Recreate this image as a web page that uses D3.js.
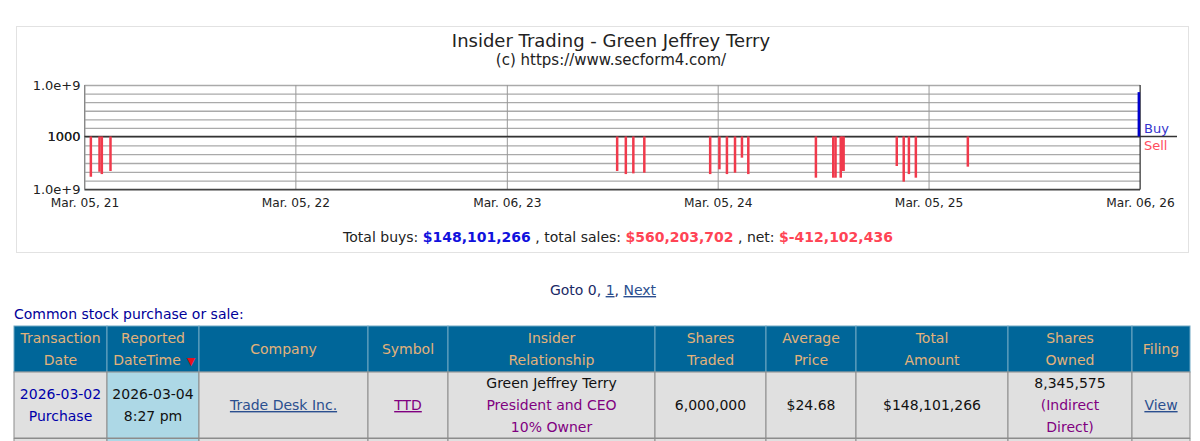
<!DOCTYPE html>
<html>
<head>
<meta charset="utf-8">
<script src="https://cdn.jsdelivr.net/npm/d3@7"></script>
<style>
  html, body { margin: 0; padding: 0; background: #fff; overflow: hidden; }
  text { font-family: "DejaVu Sans", sans-serif; }
  svg { display: block; }
</style>
</head>
<body>
<script>
// Sales (date and dollar amount)
const sellDates = ["2021-03-16", "2021-03-31", "2021-04-04", "2021-04-19",
    "2023-09-13", "2023-09-28", "2023-10-11", "2023-10-30",
    "2024-02-21", "2024-03-08", "2024-03-21", "2024-04-04", "2024-04-16", "2024-04-27",
    "2024-08-22", "2024-09-21", "2024-09-25", "2024-10-04", "2024-10-06", "2024-10-09",
    "2025-01-09", "2025-01-21", "2025-01-30", "2025-02-11", "2025-05-12"];
const sellAmounts = [36e6, 9.8e6, 18e6, 8e6,
    8e6, 18e6, 15e6, 12.6e6,
    18e6, 5.2e6, 18e6, 12.6e6, 2.5e5, 18e6,
    46e6, 46e6, 46e6, 46e6, 8e6, 8e6,
    2.2e6, 130e6, 18e6, 46e6, 2.6e6];

// Purchases
const buyDates = ["2026-03-04"];
const buyAmounts = [148101266];

const xTickDates = ["2021-03-05", "2022-03-05", "2023-03-06", "2024-03-05", "2025-03-05", "2026-03-06"];
const xTickLabels = ["Mar. 05, 21", "Mar. 05, 22", "Mar. 06, 23", "Mar. 05, 24", "Mar. 05, 25", "Mar. 06, 26"];
const yTickValues = [1e3, 1e4, 1e5, 1e6, 1e7, 1e8, 1e9];

// Table contents
const headerLines = [["Transaction", "Date"], ["Reported", "DateTime"], ["Company"], ["Symbol"],
    ["Insider", "Relationship"], ["Shares", "Traded"], ["Average", "Price"], ["Total", "Amount"],
    ["Shares", "Owned"], ["Filing"]];
const columnEdges = [14, 107, 199, 368, 448, 655, 766, 856, 1008, 1132, 1190];

const width = 1200, height = 441;
const plot = { left: 84.5, right: 1140, top: 85, zero: 136.5, bottom: 189.5 };

const parseDate = d3.utcParse("%Y-%m-%d");

const svg = d3.select("body").append("svg")
    .attr("width", width)
    .attr("height", height);

// Chart frame
svg.append("rect")
    .attr("x", 16.5).attr("y", 26.5)
    .attr("width", 1172).attr("height", 226)
    .attr("fill", "#fff")
    .attr("stroke", "#e2e2e2")
    .attr("stroke-width", 1);

svg.append("text")
    .attr("x", 611).attr("y", 47)
    .attr("text-anchor", "middle")
    .style("font-size", "18px")
    .attr("fill", "#222")
    .text("Insider Trading - Green Jeffrey Terry");

svg.append("text")
    .attr("x", 611).attr("y", 65)
    .attr("text-anchor", "middle")
    .style("font-size", "15px")
    .attr("fill", "#222")
    .text("(c) https://www.secform4.com/");

// Scales: time across, log decades above and below the 1000 line
const xscale = d3.scaleUtc()
    .domain([parseDate(xTickDates[0]), parseDate(xTickDates[5])])
    .range([plot.left, plot.right]);

const buyScale = d3.scaleLog()
    .domain([1e3, 1e9])
    .range([plot.zero, plot.top]);

const sellScale = d3.scaleLog()
    .domain([1e3, 1e9])
    .range([plot.zero, plot.bottom]);

// Horizontal grid, both halves
const gridAxis = function(scale) {
    return d3.axisLeft(scale)
        .tickValues(yTickValues)
        .tickSize(plot.left - plot.right)
        .tickFormat(d => d === 1e9 ? "1.0e+9" : (d === 1e3 ? "1000" : ""));
};

[buyScale, sellScale].forEach(scale => {
    const g = svg.append("g")
        .attr("transform", `translate(${plot.left},0)`)
        .call(gridAxis(scale));
    g.select(".domain").remove();
    g.selectAll("line").attr("stroke", "#aaa").attr("stroke-width", 1.4);
    g.selectAll("text")
        .attr("x", -4)
        .attr("fill", "#222")
        .style("font-family", '"DejaVu Sans", sans-serif')
        .style("font-size", "13px");
});

// Time axis with vertical grid
const xaxis = svg.append("g")
    .attr("transform", `translate(0,${plot.bottom})`)
    .call(d3.axisBottom(xscale)
        .tickValues(xTickDates.map(parseDate))
        .tickSize(plot.bottom - plot.top)
        .tickFormat((d, i) => xTickLabels[i]));
xaxis.select(".domain").remove();
xaxis.selectAll("line")
    .attr("y2", plot.top - plot.bottom)
    .attr("stroke", "#999")
    .attr("stroke-width", 1);
xaxis.selectAll("text")
    .attr("y", 9)
    .attr("dy", "0.71em")
    .attr("fill", "#222")
    .style("font-family", '"DejaVu Sans", sans-serif')
    .style("font-size", "12.2px");

// Dark edges of the plot
svg.append("line")
    .attr("x1", plot.left).attr("x2", plot.right)
    .attr("y1", plot.bottom).attr("y2", plot.bottom)
    .attr("stroke", "#444").attr("stroke-width", 1.4);
svg.append("line")
    .attr("x1", plot.left).attr("x2", plot.left)
    .attr("y1", plot.top).attr("y2", plot.bottom)
    .attr("stroke", "#888").attr("stroke-width", 1);
svg.append("line")
    .attr("x1", plot.right).attr("x2", plot.right)
    .attr("y1", plot.top).attr("y2", plot.bottom)
    .attr("stroke", "#333").attr("stroke-width", 1);
svg.append("line")
    .attr("x1", plot.left).attr("x2", 1177)
    .attr("y1", plot.zero).attr("y2", plot.zero)
    .attr("stroke", "#333").attr("stroke-width", 1.4);

// Bars
svg.append("g").selectAll("line")
    .data(sellDates)
    .enter().append("line")
    .attr("x1", d => xscale(parseDate(d)))
    .attr("x2", d => xscale(parseDate(d)))
    .attr("y1", plot.zero)
    .attr("y2", (d, i) => sellScale(sellAmounts[i]))
    .attr("stroke", "#f03a4c")
    .attr("stroke-width", 2.5);

svg.append("g").selectAll("line")
    .data(buyDates)
    .enter().append("line")
    .attr("x1", d => xscale(parseDate(d)))
    .attr("x2", d => xscale(parseDate(d)))
    .attr("y1", plot.zero)
    .attr("y2", (d, i) => buyScale(buyAmounts[i]))
    .attr("stroke", "#0000cc")
    .attr("stroke-width", 2.5);

svg.append("text")
    .attr("x", 1144).attr("y", 133)
    .style("font-size", "13px")
    .attr("fill", "#3333cc")
    .text("Buy");
svg.append("text")
    .attr("x", 1144).attr("y", 150)
    .style("font-size", "13px")
    .attr("fill", "#ff4d5e")
    .text("Sell");

// Totals line
const totals = svg.append("text")
    .attr("x", 618).attr("y", 242)
    .attr("text-anchor", "middle")
    .style("font-size", "14px")
    .attr("fill", "#222");
totals.append("tspan").text("Total buys: ");
totals.append("tspan").attr("font-weight", "bold").attr("fill", "#1111dd").text("$148,101,266");
totals.append("tspan").text(" , total sales: ");
totals.append("tspan").attr("font-weight", "bold").attr("fill", "#ff4455").text("$560,203,702");
totals.append("tspan").text(" , net: ");
totals.append("tspan").attr("font-weight", "bold").attr("fill", "#ff4455").text("$-412,102,436");

// Pager
const pager = svg.append("text")
    .attr("x", 603).attr("y", 295)
    .attr("text-anchor", "middle")
    .style("font-size", "14px")
    .attr("fill", "#1a2a66");
pager.append("tspan").text("Goto 0, ");
pager.append("tspan").attr("fill", "#2b4f8f").attr("text-decoration", "underline").text("1");
pager.append("tspan").text(", ");
pager.append("tspan").attr("fill", "#2b4f8f").attr("text-decoration", "underline").text("Next");

svg.append("text")
    .attr("x", 14).attr("y", 319)
    .style("font-size", "14px")
    .attr("fill", "#000099")
    .text("Common stock purchase or sale:");

// Table
const headerTop = 326, headerBottom = 372, rowBottom = 438;
const colX = d3.scaleOrdinal().domain(d3.range(10)).range(columnEdges.slice(0, 10));
const colEnd = i => columnEdges[i + 1];
const colMid = i => (colX(i) + colEnd(i)) / 2;

svg.append("g").selectAll("rect")
    .data(headerLines)
    .enter().append("rect")
    .attr("x", (d, i) => colX(i))
    .attr("y", headerTop)
    .attr("width", (d, i) => colEnd(i) - colX(i))
    .attr("height", headerBottom - headerTop)
    .attr("fill", "#006699")
    .attr("stroke", "#6fa8c4")
    .attr("stroke-width", 1);

headerLines.forEach((lines, i) => {
    lines.forEach((line, j) => {
        svg.append("text")
            .attr("x", i === 1 && j === 1 ? colMid(i) - 6 : colMid(i))
            .attr("y", lines.length === 1 ? 354 : 343 + j * 22)
            .attr("text-anchor", "middle")
            .style("font-size", "14px")
            .attr("fill", "#e3b27a")
            .text(line);
    });
});

svg.append("text")
    .attr("x", 191).attr("y", 365)
    .attr("text-anchor", "middle")
    .style("font-size", "11px")
    .attr("fill", "#e8101c")
    .text("\u25BC");

// Row cells
svg.append("g").selectAll("rect")
    .data(d3.range(10))
    .enter().append("rect")
    .attr("x", i => colX(i))
    .attr("y", headerBottom)
    .attr("width", i => colEnd(i) - colX(i))
    .attr("height", rowBottom - headerBottom)
    .attr("fill", i => i === 1 ? "#add8e6" : "#e0e0e0")
    .attr("stroke", "#8c8c8c")
    .attr("stroke-width", 1);
svg.append("g").selectAll("rect")
    .data(d3.range(10))
    .enter().append("rect")
    .attr("x", i => colX(i))
    .attr("y", rowBottom + 0.5)
    .attr("width", i => colEnd(i) - colX(i))
    .attr("height", 4)
    .attr("fill", i => i === 1 ? "#add8e6" : "#e0e0e0")
    .attr("stroke", "#8c8c8c")
    .attr("stroke-width", 1);

const cellText = function(col, y, content, color, underline) {
    svg.append("text")
        .attr("x", colMid(col)).attr("y", y)
        .attr("text-anchor", "middle")
        .style("font-size", "14px")
        .attr("fill", color)
        .attr("text-decoration", underline ? "underline" : null)
        .text(content);
};

cellText(0, 399, "2026-03-02", "#0000aa");
cellText(0, 421, "Purchase", "#0000aa");
cellText(1, 399, "2026-03-04", "#111");
cellText(1, 421, "8:27 pm", "#111");
cellText(2, 410, "Trade Desk Inc.", "#2b4f8f", true);
cellText(3, 410, "TTD", "#800080", true);
cellText(4, 388, "Green Jeffrey Terry", "#111");
cellText(4, 410, "President and CEO", "#800080");
cellText(4, 432, "10% Owner", "#800080");
cellText(5, 410, "6,000,000", "#111");
cellText(6, 410, "$24.68", "#111");
cellText(7, 410, "$148,101,266", "#111");
cellText(8, 388, "8,345,575", "#111");
cellText(8, 410, "(Indirect", "#800080");
cellText(8, 432, "Direct)", "#800080");
cellText(9, 410, "View", "#2b4f8f", true);
</script>
</body>
</html>
